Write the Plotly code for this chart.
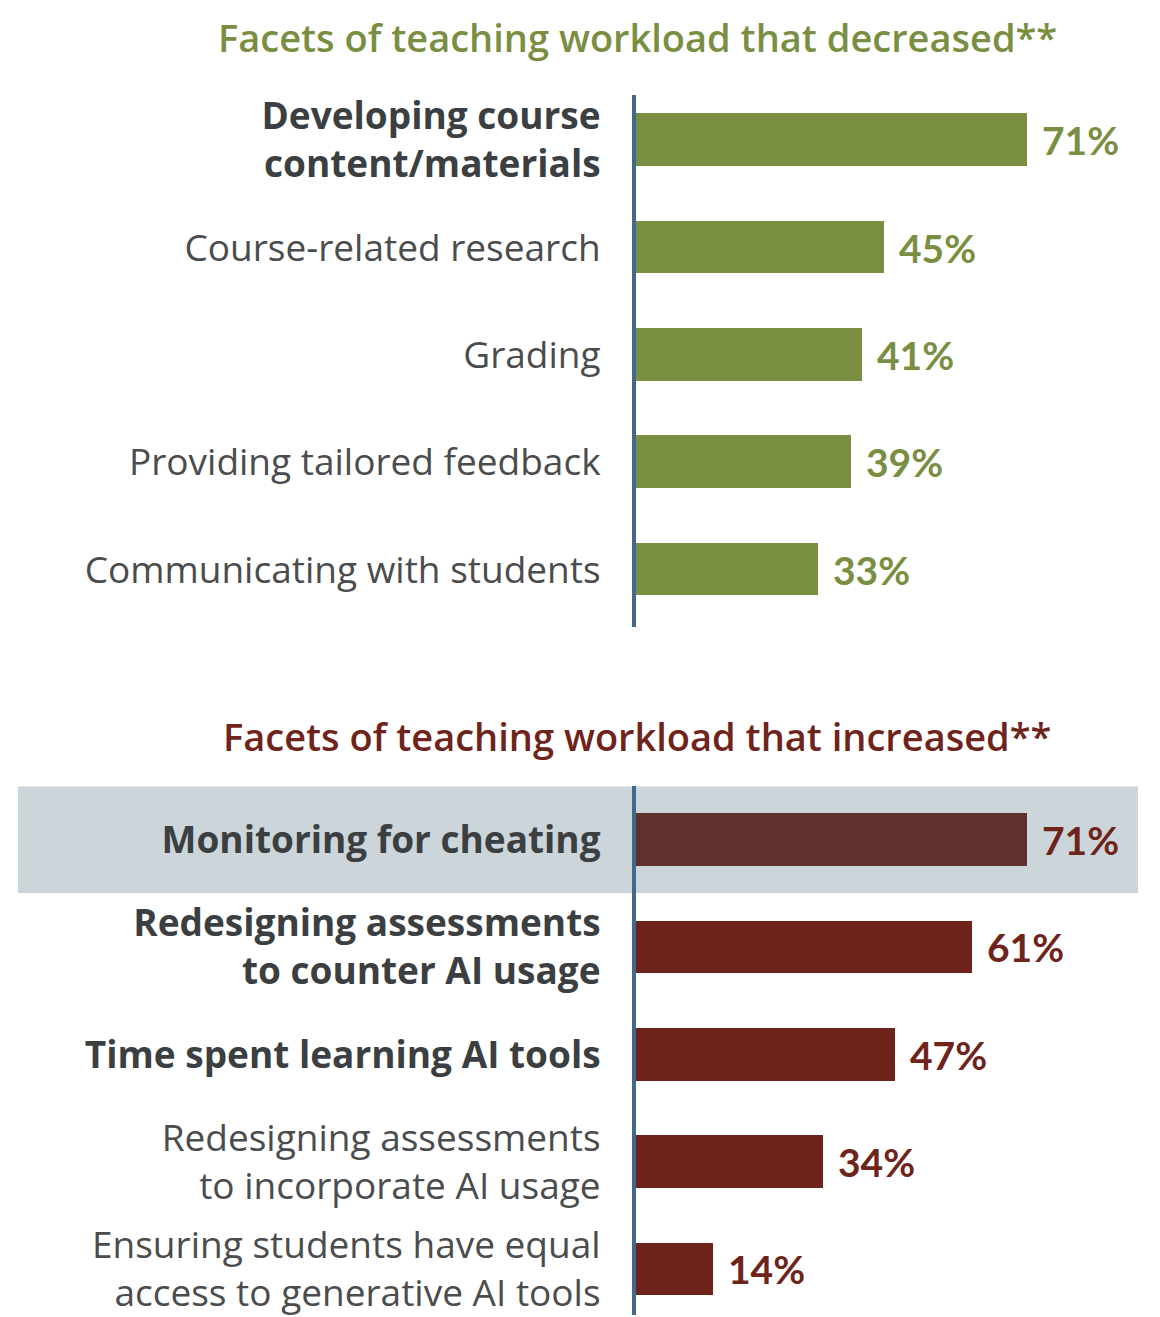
import plotly.graph_objects as go

# the page body has an 8px margin, so the figure is placed at (8, 8)
OFF = 8
W, H = 1160 - OFF, 1317 - OFF

GREEN = "#7A8E42"
RED = "#6E241B"
RED_HL = "#5F302C"
AXIS = "#44688A"
BAND = "#CCD6DA"
DARK = "#3B3F41"
GREY = "#4A4C4D"
FONT = "Open Sans"
NUM_FONT = "Lato"

dec_labels = ["Developing course<br>content/materials", "Course-related research", "Grading",
              "Providing tailored feedback", "Communicating with students"]
dec_bold = [True, False, False, False, False]
dec_values = [71, 45, 41, 39, 33]

inc_labels = ["Monitoring for cheating", "Redesigning assessments<br>to counter AI usage",
              "Time spent learning AI tools", "Redesigning assessments<br>to incorporate AI usage",
              "Ensuring students have equal<br>access to generative AI tools"]
inc_bold = [True, True, True, False, False]
inc_values = [71, 61, 47, 34, 14]


def fmt(label, bold):
    if bold:
        return f"<span style='color:{DARK}'><b>{label}</b></span>"
    return f"<span style='color:{GREY}'>{label}</span>"


def px_x(p):
    return (p - OFF) / W


def px_y(p):
    return 1 - (p - OFF) / H


x_dom = [px_x(636), 1.0]
x_rng = [0, (1160 - 636) / 5.507]

fig = go.Figure()
fig.add_trace(go.Bar(
    x=dec_values, y=list(range(len(dec_values))), orientation="h",
    marker=dict(color=GREEN, line=dict(width=0)), width=0.49,
    xaxis="x", yaxis="y", hoverinfo="skip",
))
fig.add_trace(go.Bar(
    x=inc_values, y=list(range(len(inc_values))), orientation="h",
    marker=dict(color=[RED_HL if i == 0 else RED for i in range(len(inc_values))], line=dict(width=0)),
    width=0.49, xaxis="x2", yaxis="y2", hoverinfo="skip",
))

annotations = []
for i, v in enumerate(dec_values):
    annotations.append(dict(x=v, y=i, xref="x", yref="y", text=f"<b>{v}%</b>", showarrow=False,
                            xanchor="left", xshift=13, font=dict(color=GREEN, size=39, family=NUM_FONT)))
for i, v in enumerate(inc_values):
    annotations.append(dict(x=v, y=i, xref="x2", yref="y2", text=f"<b>{v}%</b>", showarrow=False,
                            xanchor="left", xshift=13, font=dict(color=RED, size=39, family=NUM_FONT)))

annotations.append(dict(x=px_x(637), y=px_y(31), xref="paper", yref="paper", yanchor="middle",
                        text="Facets of teaching workload that decreased**", showarrow=False,
                        font=dict(color=GREEN, size=38, family=FONT, weight=600)))
annotations.append(dict(x=px_x(637), y=px_y(734), xref="paper", yref="paper", yanchor="middle",
                        text="Facets of teaching workload that increased**", showarrow=False,
                        font=dict(color=RED, size=38, family=FONT, weight=600)))

ax_common = dict(showgrid=False, zeroline=False, showticklabels=True, ticks="",
                 tickfont=dict(size=37, family=FONT), ticklabelstandoff=24,
                 ticklabeloverflow="allow",
                 showline=True, linecolor=AXIS, linewidth=4)

fig.update_layout(
    width=W, height=H,
    margin=dict(l=0, r=0, t=0, b=0),
    paper_bgcolor="white", plot_bgcolor="rgba(0,0,0,0)",
    showlegend=False, bargap=0,
    xaxis=dict(domain=x_dom, range=x_rng, visible=False, anchor="y"),
    xaxis2=dict(domain=x_dom, range=x_rng, visible=False, anchor="y2"),
    yaxis=dict(domain=[px_y(625), px_y(90)], range=[4.537, -0.417], anchor="x",
               tickvals=list(range(len(dec_labels))),
               ticktext=[fmt(l, b) for l, b in zip(dec_labels, dec_bold)], **ax_common),
    yaxis2=dict(domain=[0, px_y(785)], range=[4.426, -0.5], anchor="x2",
                tickvals=list(range(len(inc_labels))),
                ticktext=[fmt(l, b) for l, b in zip(inc_labels, inc_bold)], **ax_common),
    shapes=[dict(type="rect", xref="paper", yref="y2", x0=px_x(18), x1=px_x(1138), y0=-0.5, y1=0.495,
                 fillcolor=BAND, line=dict(width=0), layer="below")],
    annotations=annotations,
)

fig.write_html("out.html")
